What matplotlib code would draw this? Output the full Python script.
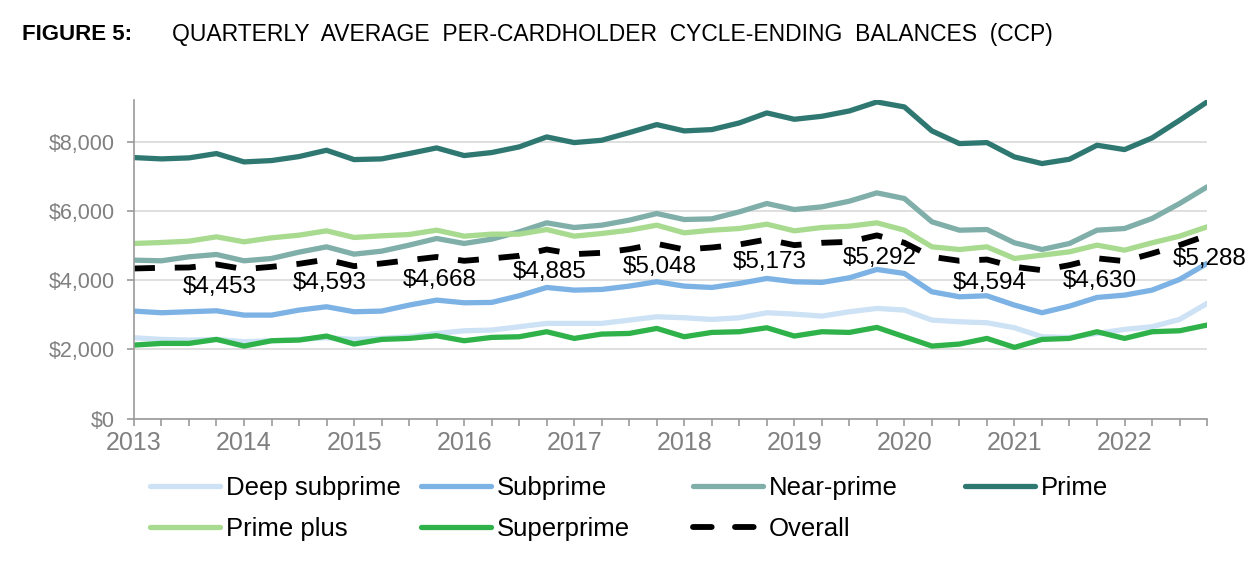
import matplotlib
matplotlib.use("Agg")
import matplotlib.pyplot as plt
from matplotlib.lines import Line2D
from matplotlib.ticker import MultipleLocator, FuncFormatter

plt.rcParams['font.family'] = ['Liberation Sans', 'DejaVu Sans']

# quarterly points, 2013 Q1 .. 2022 Q4
quarters = [2013 + i / 4 for i in range(40)]
years = list(range(2013, 2023))

deep_subprime = [2336, 2288, 2269, 2288, 2221, 2250, 2288, 2336, 2288, 2317,
                 2365, 2461, 2538, 2558, 2654, 2750, 2750, 2750, 2846, 2942,
                 2913, 2865, 2913, 3058, 3019, 2961, 3087, 3183, 3135, 2846,
                 2798, 2769, 2625, 2365, 2346, 2461, 2577, 2654, 2865, 3327]
subprime = [3106, 3058, 3087, 3115, 2990, 2990, 3135, 3231, 3087, 3106,
            3279, 3423, 3346, 3356, 3548, 3788, 3711, 3731, 3827, 3952,
            3827, 3788, 3904, 4048, 3952, 3933, 4067, 4308, 4192, 3663,
            3519, 3548, 3279, 3058, 3250, 3500, 3567, 3711, 4019, 4481]
near_prime = [4577, 4558, 4673, 4740, 4558, 4625, 4808, 4961, 4750, 4836,
              5010, 5202, 5058, 5183, 5394, 5654, 5519, 5586, 5731, 5923,
              5750, 5769, 5971, 6211, 6038, 6115, 6279, 6519, 6356, 5683,
              5442, 5461, 5077, 4884, 5058, 5442, 5490, 5779, 6211, 6692]
prime = [7538, 7500, 7529, 7654, 7413, 7452, 7567, 7750, 7480, 7500,
         7654, 7817, 7596, 7683, 7846, 8134, 7971, 8038, 8259, 8490,
         8308, 8346, 8538, 8827, 8644, 8730, 8884, 9144, 9000, 8308,
         7942, 7971, 7557, 7365, 7490, 7894, 7769, 8105, 8615, 9144]
prime_plus = [5058, 5086, 5125, 5250, 5106, 5221, 5298, 5423, 5231, 5279,
              5317, 5442, 5269, 5327, 5327, 5461, 5269, 5346, 5442, 5586,
              5365, 5442, 5490, 5615, 5423, 5519, 5557, 5654, 5442, 4961,
              4884, 4961, 4625, 4721, 4817, 5010, 4865, 5077, 5269, 5538]
superprime = [2125, 2173, 2173, 2288, 2096, 2250, 2269, 2385, 2154, 2288,
              2317, 2394, 2250, 2346, 2365, 2510, 2317, 2442, 2461, 2606,
              2365, 2490, 2510, 2625, 2385, 2510, 2490, 2635, 2365, 2096,
              2154, 2317, 2058, 2288, 2317, 2510, 2317, 2510, 2538, 2702]
overall = [4336, 4356, 4365, 4453, 4317, 4384, 4471, 4593, 4404, 4481,
           4577, 4668, 4558, 4625, 4702, 4885, 4750, 4788, 4894, 5048,
           4884, 4942, 5029, 5173, 5010, 5077, 5106, 5292, 5077, 4673,
           4558, 4594, 4384, 4288, 4433, 4630, 4548, 4769, 5010, 5288]
# data labels on the fourth quarter of each year
label_idx = [3, 7, 11, 15, 19, 23, 27, 31, 35, 39]

series = [
    ("Deep subprime", deep_subprime, "#cde2f5"),
    ("Subprime", subprime, "#7db2e5"),
    ("Near-prime", near_prime, "#80aea9"),
    ("Prime", prime, "#2f7872"),
    ("Prime plus", prime_plus, "#a8db90"),
    ("Superprime", superprime, "#2fb24a"),
]

fig = plt.figure(figsize=(12.6, 5.66), dpi=100)
ax = fig.add_axes([0.1063, 0.2603, 0.8517, 0.563])

LW = 3.8
for name, vals, col in series:
    ax.plot(quarters, vals, color=col, lw=LW, solid_capstyle='round',
            solid_joinstyle='round')
ax.plot(quarters, overall, color='black', lw=4.2, dashes=(3.6, 3.4))

for i in label_idx:
    ax.annotate("${:,}".format(overall[i]), (quarters[i], overall[i]),
                xytext=(3, -23), textcoords='offset pixels',
                ha='center', va='center', fontsize=17.5, color='black')

ax.set_xlim(2013, 2022.75)
ax.set_ylim(0, 9200)
ax.set_yticks([0, 2000, 4000, 6000, 8000])
ax.yaxis.set_major_formatter(FuncFormatter(lambda v, p: "${:,.0f}".format(v)))
ax.set_xticks(years)
ax.xaxis.set_minor_locator(MultipleLocator(0.25))
ax.grid(axis='y', color='#d9d9d9', lw=1.2)
ax.set_axisbelow(True)
for s in ['top', 'right']:
    ax.spines[s].set_visible(False)
for s in ['left', 'bottom']:
    ax.spines[s].set_color('#9a9a9a')
    ax.spines[s].set_linewidth(1.2)
ax.tick_params(axis='both', which='both', colors='#9a9a9a', labelcolor='#808080',
               width=1.2)
ax.tick_params(axis='x', which='both', length=5, pad=4, labelsize=18)
ax.tick_params(axis='y', length=5, pad=9, labelsize=15.5)

# title
fig.text(22 / 1260, 1 - 35 / 566, "FIGURE 5:", fontsize=16, fontweight='bold',
         va='center', ha='left')
fig.text(172 / 1260, 1 - 35 / 566,
         "QUARTERLY  AVERAGE  PER-CARDHOLDER  CYCLE-ENDING  BALANCES  (CCP)",
         fontsize=16.5, va='center', ha='left')

# legend: four equal-width columns like the original
handles = {name: Line2D([], [], color=col, lw=LW, solid_capstyle='round')
           for name, vals, col in series}
handles["Overall"] = Line2D([], [], color='black', lw=4.2, dashes=(3.2, 4.0),
                            dash_capstyle='round')
columns = [["Deep subprime", "Prime plus"], ["Subprime", "Superprime"],
           ["Near-prime", "Overall"], ["Prime"]]
col_x = [150, 421, 693, 965]
for names, x in zip(columns, col_x):
    leg = fig.legend([handles[n] for n in names], names, loc='upper left',
                     bbox_to_anchor=(x / 1260, 1 - 476 / 566), frameon=False,
                     fontsize=18.5, handlelength=2.72, handletextpad=0.23,
                     labelspacing=0.68, borderpad=0, borderaxespad=0)

fig.savefig("out.png", dpi=100)
